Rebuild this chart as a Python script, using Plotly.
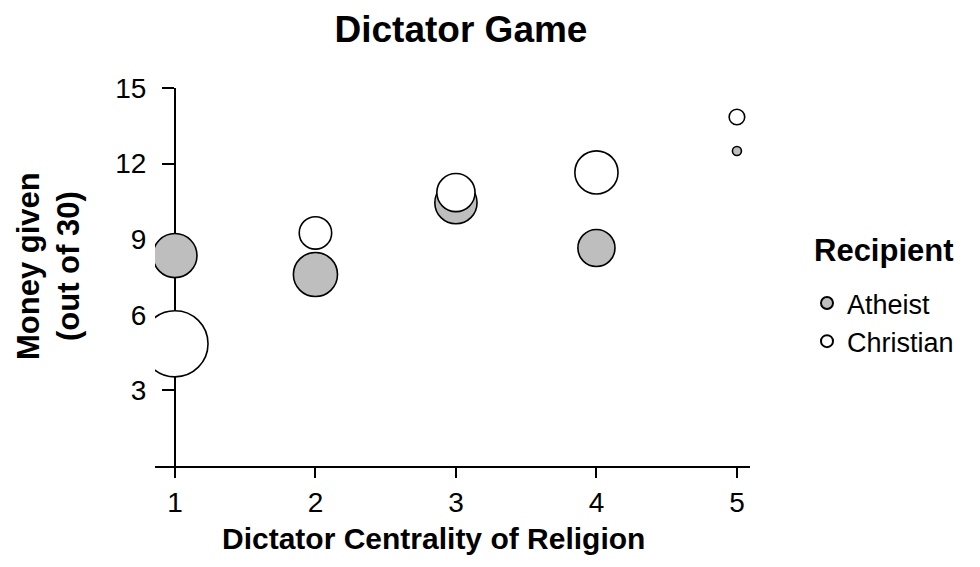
import numpy as np
import plotly.graph_objects as go

# centrality of religion (dictator), 1-5
centrality = [1, 2, 3, 4, 5]

# mean money given (out of 30), by recipient
atheist_given = [8.35, 7.6, 10.45, 8.65, 12.5]
christian_given = [4.85, 9.25, 10.85, 11.65, 13.85]

# number of dictators in each cell (bubble size)
atheist_n = [24, 24, 22, 17, 1]
christian_n = [54, 13, 18, 23, 3]

y_ticks = [3, 6, 9, 12, 15]

FONT = "Liberation Sans, Arial, sans-serif"
GREY = "#bebebe"


def bubble(n):
    # area proportional to n
    return list(9 * np.sqrt(np.array(n, dtype=float)))


fig = go.Figure()
fig.add_trace(go.Scatter(
    x=centrality, y=atheist_given, mode="markers", name="Atheist",
    marker=dict(size=bubble(atheist_n), color=GREY, opacity=1,
                line=dict(color="black", width=1.6)),
))
fig.add_trace(go.Scatter(
    x=centrality, y=christian_given, mode="markers", name="Christian",
    marker=dict(size=bubble(christian_n), color="white", opacity=1,
                line=dict(color="black", width=1.6)),
))

# plot area in figure px
L, R, T, B = 147, 238, 80, 109
W, H = 980, 567
plot_w = W - L - R
plot_h = H - T - B
x0, x1 = 0.858, 5.093
ypos = (1 - x0) / (x1 - x0)


def px_x(v):
    return (v - L) / plot_w


def px_y(v):
    return (H - B - v) / plot_h


fig.update_layout(
    width=W, height=H,
    margin=dict(l=L, r=R, t=T, b=B, autoexpand=False),
    plot_bgcolor="white", paper_bgcolor="white",
    font=dict(family=FONT, size=28, color="black"),
    title=dict(text="<b>Dictator Game</b>", x=453 / W, xanchor="center",
               y=1 - 21 / H, yanchor="middle", font=dict(size=37, color="black")),
    showlegend=True,
    legend=dict(
        x=px_x(799), xanchor="left", y=px_y(271), yanchor="top",
        font=dict(size=27), itemsizing="constant", tracegroupgap=0,
        bgcolor="rgba(0,0,0,0)",
    ),
    annotations=[
        dict(text="<b>Recipient</b>", xref="paper", yref="paper",
             x=px_x(804), y=px_y(243), xanchor="left", yanchor="middle",
             showarrow=False, font=dict(size=31)),
        dict(text="<b>Dictator Centrality of Religion</b>", xref="paper", yref="paper",
             x=px_x(425.5), y=px_y(530), xanchor="center", yanchor="middle",
             showarrow=False, font=dict(size=30)),
        dict(text="<b>Money given<br>(out of 30)</b>", xref="paper", yref="paper",
             x=px_x(40), y=px_y(258), xanchor="center", yanchor="middle",
             textangle=-90, showarrow=False, font=dict(size=31)),
    ],
)

fig.update_xaxes(
    range=[x0, x1], tickvals=centrality, showgrid=False, zeroline=False,
    showline=True, linecolor="black", linewidth=2, layer="below traces",
    automargin=False,
    ticks="outside", ticklen=10, tickwidth=2, tickcolor="black",
    tickfont=dict(size=28), ticklabelstandoff=0,
)
fig.update_yaxes(
    range=[0, 15], tickvals=y_ticks, showgrid=False, zeroline=False,
    showline=True, linecolor="black", linewidth=2, layer="below traces",
    anchor="free", position=ypos, automargin=False,
    ticks="outside", ticklen=12, tickwidth=2, tickcolor="black",
    tickfont=dict(size=28), ticklabelstandoff=10,
)

fig.write_html("out.html")
